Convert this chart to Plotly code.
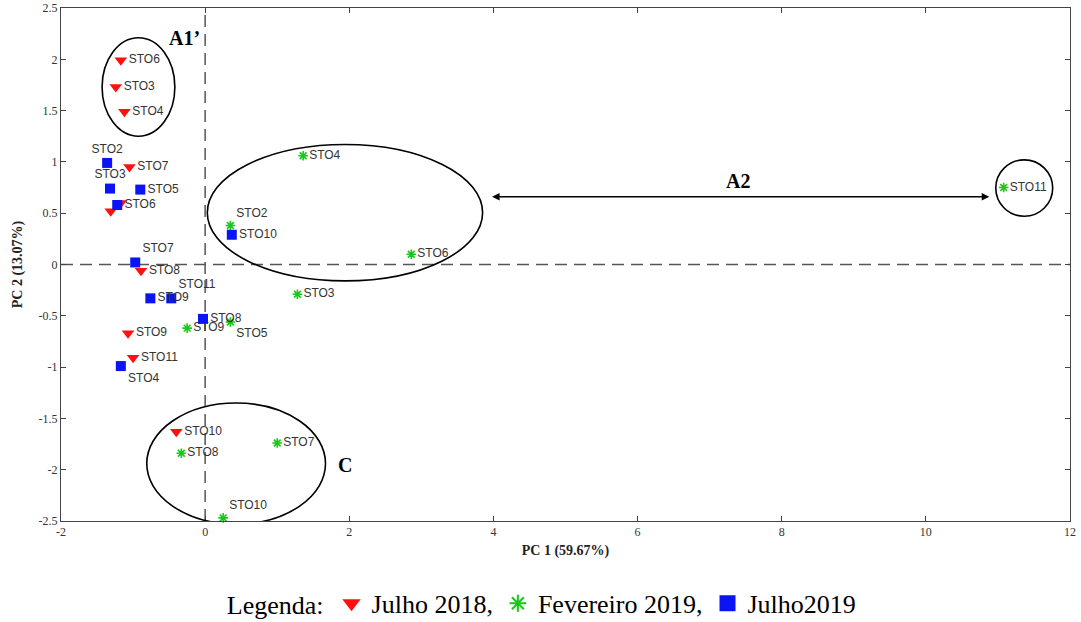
import plotly.graph_objects as go

# PCA scores (PC1, PC2) per station and campaign
jul18_names = ["STO6", "STO3", "STO4", "STO7", "STO2", "STO5", "STO8", "STO9", "STO11", "STO10"]
jul18_labels = ["STO6", "STO3", "STO4", "STO7", "", "", "STO8", "STO9", "STO11", "STO10"]
jul18_pc1 = [-1.17, -1.24, -1.12, -1.05, -1.17, -1.31, -0.89, -1.07, -1.00, -0.40]
jul18_pc2 = [1.99, 1.73, 1.49, 0.95, 0.60, 0.52, -0.06, -0.67, -0.91, -1.63]

fev19_names = ["STO4", "STO2", "STO6", "STO3", "STO5", "STO9", "STO8", "STO7", "STO10", "STO11"]
fev19_pc1 = [1.36, 0.35, 2.86, 1.28, 0.35, -0.25, -0.33, 1.00, 0.25, 11.08]
fev19_pc2 = [1.06, 0.38, 0.10, -0.29, -0.56, -0.62, -1.84, -1.74, -2.47, 0.75]

jul19_names = ["STO2", "STO3", "STO5", "STO6", "STO7", "STO9", "STO11", "STO8", "STO4", "STO10"]
jul19_pc1 = [-1.36, -1.32, -0.90, -1.22, -0.97, -0.76, -0.47, -0.03, -1.17, 0.37]
jul19_pc2 = [0.99, 0.74, 0.73, 0.58, 0.02, -0.33, -0.33, -0.53, -0.99, 0.29]

x_ticks = [-2, 0, 2, 4, 6, 8, 10, 12]
y_ticks = [-2.5, -2, -1.5, -1, -0.5, 0, 0.5, 1, 1.5, 2, 2.5]

# label placement around each marker
jul18_pos = ["middle right"] * 10
fev19_pos = ["middle right", "top right", "middle right", "middle right", "bottom right",
             "middle right", "middle right", "middle right", "top right", "middle right"]
jul19_pos = ["top center", "top center", "middle right", "middle right", "top right",
             "middle right", "top right", "middle right", "bottom right", "middle right"]

label_font = dict(family="Liberation Sans, Arial", size=12, color="#333333")
serif = "Liberation Serif, Times New Roman"

RED, GREEN, BLUE = "#ff1010", "#18c818", "#0a14f5"

series = [
    ("Julho 2018,", jul18_pc1, jul18_pc2, jul18_labels, jul18_pos,
     dict(symbol="triangle-down", size=11, color=RED),
     dict(symbol="triangle-down", size=22, color=RED)),
    ("Fevereiro 2019,", fev19_pc1, fev19_pc2, fev19_names, fev19_pos,
     dict(symbol="asterisk-open", size=8, color=GREEN, line=dict(color=GREEN, width=1.6)),
     dict(symbol="asterisk-open", size=14, color=GREEN, line=dict(color=GREEN, width=2))),
    ("Julho2019", jul19_pc1, jul19_pc2, jul19_names, jul19_pos,
     dict(symbol="square", size=10, color=BLUE),
     dict(symbol="square", size=18, color=BLUE)),
]

fig = go.Figure()
for name, xs, ys, labels, pos, mk, _ in series:
    fig.add_trace(go.Scatter(
        x=xs, y=ys, mode="markers+text", name=name, legendgroup=name,
        text=labels, textposition=pos, textfont=label_font,
        marker=mk, cliponaxis=False, showlegend=False))
# larger keys for the legend line below the axes
for name, _, _, _, _, _, key in series:
    fig.add_trace(go.Scatter(
        x=[None], y=[None], mode="markers", name=name, legendgroup=name,
        marker=key, showlegend=True))

shapes = []
# dashed reference lines through the origin
shapes.append(dict(type="line", xref="x", yref="y", x0=0, x1=0, y0=-2.5, y1=2.5,
                   line=dict(color="#555555", width=1.5, dash="12px,7px"), layer="below"))
shapes.append(dict(type="line", xref="x", yref="y", x0=-2, x1=12, y0=0, y1=0,
                   line=dict(color="#555555", width=1.5, dash="12px,7px"), layer="below"))
# group outlines
for x0, x1, y0, y1 in [(-1.43, -0.42, 1.25, 2.21),
                       (0.03, 3.85, -0.16, 1.17),
                       (10.97, 11.76, 0.47, 1.02),
                       (-0.81, 1.67, -2.53, -1.35)]:
    shapes.append(dict(type="circle", xref="x", yref="y", x0=x0, x1=x1, y0=y0, y1=y1,
                       line=dict(color="black", width=1.6)))

annotations = [
    dict(x=-0.28, y=2.21, xref="x", yref="y", text="<b>A1’</b>", showarrow=False,
         font=dict(family=serif, size=20, color="black")),
    dict(x=7.40, y=0.81, xref="x", yref="y", text="<b>A2</b>", showarrow=False,
         font=dict(family=serif, size=20, color="black")),
    dict(x=1.94, y=-1.95, xref="x", yref="y", text="<b>C</b>", showarrow=False,
         font=dict(family=serif, size=20, color="black")),
    # double-headed arrow between the two groups
    dict(x=10.88, y=0.66, ax=3.96, ay=0.66, xref="x", yref="y", axref="x", ayref="y",
         text="", showarrow=True, arrowhead=2, arrowside="end+start", arrowsize=1,
         arrowwidth=1.5, arrowcolor="black"),
]

axis_common = dict(showgrid=False, zeroline=False, showline=True, linecolor="#444444",
                   linewidth=1, mirror="ticks", ticks="inside", ticklen=5,
                   tickcolor="#444444", tickfont=dict(family=serif, size=12, color="#333333"))

fig.update_layout(
    width=1081, height=622,
    margin=dict(l=61, r=11, t=8, b=101, autoexpand=False),
    plot_bgcolor="white", paper_bgcolor="white",
    shapes=shapes, annotations=annotations,
    xaxis=dict(range=[-2, 12], tickvals=x_ticks, ticktext=[str(v) for v in x_ticks],
               title=dict(text="<b>PC 1 (59.67%)</b>", standoff=6,
                          font=dict(family=serif, size=14, color="#222222")),
               **axis_common),
    yaxis=dict(range=[-2.5, 2.5], tickvals=y_ticks, ticktext=[f"{v:g}" for v in y_ticks],
               title=dict(text="<b>PC 2 (13.07%)</b>", standoff=12,
                          font=dict(family=serif, size=14, color="#222222")),
               **axis_common),
    showlegend=True,
    legend=dict(orientation="h", x=0.478, xanchor="center",
                yref="container", y=0.03, yanchor="middle",
                title=dict(text="Legenda:", side="left",
                           font=dict(family=serif, size=26, color="black")),
                font=dict(family=serif, size=26, color="black"),
                itemsizing="trace", bgcolor="rgba(0,0,0,0)"),
)

fig.write_html("out.html")
